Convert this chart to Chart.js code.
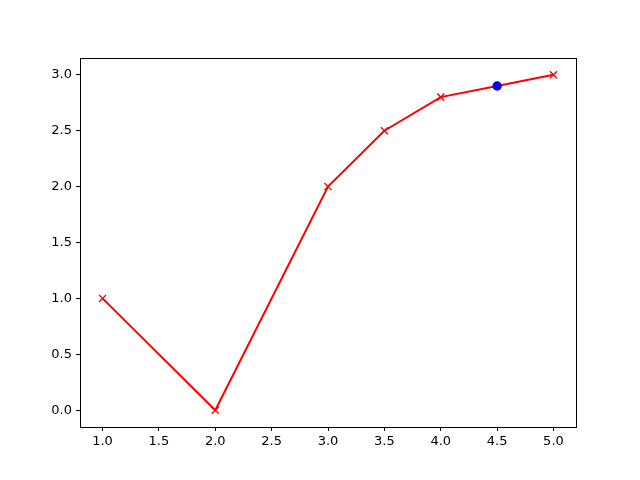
<!DOCTYPE html>
<html>
<head>
    <script src="https://cdn.jsdelivr.net/npm/chart.js@4"></script>
    <style>
        body { margin: 0; background: #fff; }
        #wrap { width: 640px; height: 480px; }
    </style>
</head>
<body>
    <div id="wrap"><canvas id="myChart"></canvas></div>
    <script>
        // data
        const xValues = [1, 2, 3, 3.5, 4, 4.5, 5];
        const yValues = [1, 0, 2, 2.5, 2.8, 2.9, 3];
        const highlightX = 4.5;   // the one point drawn as a blue dot
        const xTicks = [1.0, 1.5, 2.0, 2.5, 3.0, 3.5, 4.0, 4.5, 5.0];
        const yTicks = [0.0, 0.5, 1.0, 1.5, 2.0, 2.5, 3.0];

        const points = xValues.map((x, i) => ({ x: x, y: yValues[i] }));
        const isHi = ctx => ctx.raw && ctx.raw.x === highlightX;

        // box round the plot area, like matplotlib's spines
        const frame = {
            id: 'frame',
            afterDatasetsDraw(chart) {
                const a = chart.chartArea;
                const c = chart.ctx;
                c.save();
                c.strokeStyle = '#000';
                c.lineWidth = 1;
                c.strokeRect(Math.round(a.left) + 0.5, Math.round(a.top) + 0.5,
                    Math.round(a.right - a.left), Math.round(a.bottom - a.top));
                c.restore();
            }
        };

        const tickFont = { family: 'DejaVu Sans', size: 13 };

        new Chart(document.getElementById('myChart'), {
            type: 'scatter',
            data: {
                datasets: [{
                    data: points,
                    showLine: true,
                    borderColor: '#ff0000',
                    borderWidth: 2,
                    pointStyle: ctx => isHi(ctx) ? 'circle' : 'crossRot',
                    pointRadius: ctx => isHi(ctx) ? 4 : 5,
                    pointBorderColor: ctx => isHi(ctx) ? '#0000ff' : '#ff0000',
                    pointBackgroundColor: ctx => isHi(ctx) ? '#0000ff' : '#ff0000',
                    pointBorderWidth: 1.4,
                    clip: false
                }]
            },
            options: {
                responsive: true,
                maintainAspectRatio: false,
                animation: false,
                layout: { padding: { top: 58, right: 64, left: 0, bottom: 0 } },
                plugins: { legend: { display: false }, tooltip: { enabled: false } },
                scales: {
                    x: {
                        type: 'linear',
                        min: 0.8,
                        max: 5.2,
                        afterBuildTicks: s => { s.ticks = xTicks.map(v => ({ value: v })); },
                        afterFit: s => { s.height = 53; },
                        grid: { drawOnChartArea: false, drawTicks: true, tickLength: 4, color: '#000' },
                        border: { color: '#000' },
                        ticks: { color: '#000', font: tickFont, padding: 3, maxRotation: 0,
                            callback: v => v.toFixed(1) }
                    },
                    y: {
                        type: 'linear',
                        min: -0.15,
                        max: 3.15,
                        afterBuildTicks: s => { s.ticks = yTicks.map(v => ({ value: v })); },
                        afterFit: s => { s.width = 80; },
                        grid: { drawOnChartArea: false, drawTicks: true, tickLength: 4, color: '#000' },
                        border: { color: '#000' },
                        ticks: { color: '#000', font: tickFont, padding: 4,
                            callback: v => v.toFixed(1) }
                    }
                }
            },
            plugins: [frame]
        });
    </script>
</body>
</html>
